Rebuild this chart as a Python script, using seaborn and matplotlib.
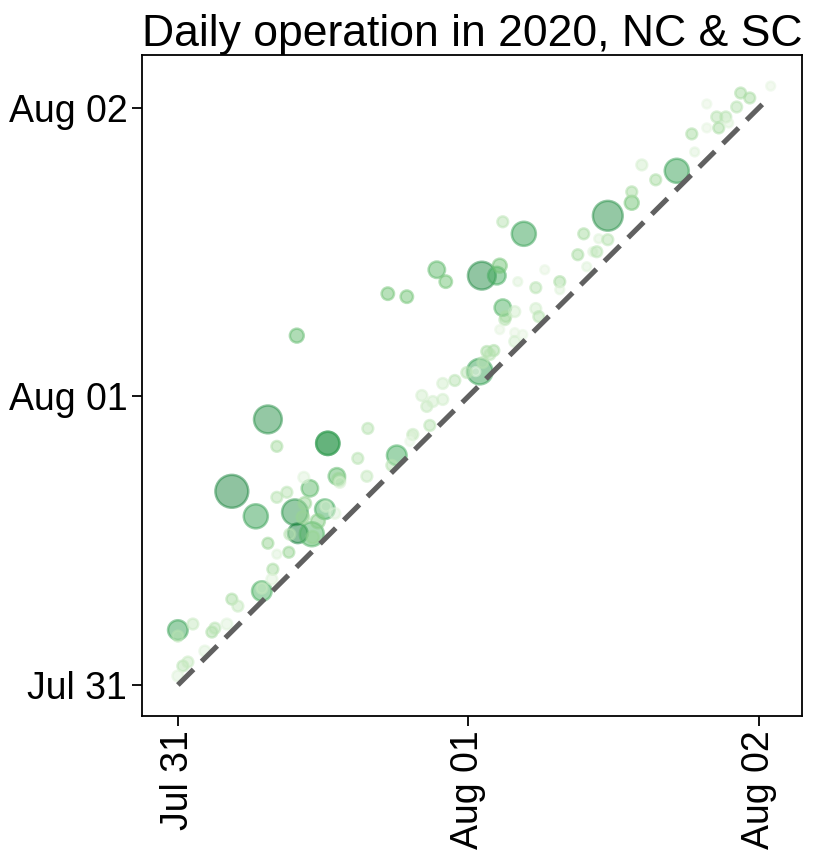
import numpy as np
import pandas as pd
import seaborn as sns
import matplotlib.pyplot as plt
import matplotlib.dates as mdates

# hours after Jul 31 00:00 (start of operation / end of operation)
start_hours = [
    0.00, 0.00, 1.24, 2.81, 3.06, 4.05, 0.41, 0.83, 0.00, 2.23,
    4.46, 4.96, 6.94, 6.94, 7.85, 7.77, 7.44, 9.17, 8.18, 7.44,
    8.18, 12.39, 12.39, 15.70, 14.87, 18.09, 17.68, 19.33, 4.46, 6.44,
    9.67, 10.91, 12.15, 12.23, 13.14, 13.30, 9.91, 11.07, 9.01, 8.18,
    10.41, 15.62, 13.38, 10.49, 11.57, 11.15, 10.33, 12.97, 9.25, 9.83,
    24.95, 24.62, 25.53, 26.11, 25.78, 25.20, 23.88, 22.89, 21.89, 20.16,
    20.57, 21.07, 21.89, 20.82, 19.42, 19.17, 27.02, 26.60, 27.84, 27.84,
    28.59, 26.85, 25.12, 26.36, 26.60, 21.40, 22.14, 17.35, 18.92, 26.85,
    27.10, 27.84, 28.09, 29.58, 30.32, 29.58, 29.83, 28.50, 35.53, 37.51,
    37.51, 38.34, 39.49, 41.23, 42.71, 33.54, 34.78, 35.53, 33.05, 34.29,
    34.62, 33.79, 31.56, 31.56, 42.47, 43.71, 43.71, 44.53, 45.28, 44.70,
    45.52, 46.18, 46.51, 47.26, 48.99,
]
end_hours = [
    4.57, 4.07, 5.07, 4.40, 4.73, 5.07, 1.58, 1.91, 0.75, 2.82,
    7.14, 6.56, 7.81, 8.05, 9.63, 8.80, 11.79, 11.04, 10.88, 22.09,
    19.85, 20.10, 20.10, 21.34, 18.85, 19.10, 18.27, 20.76, 16.11, 14.03,
    14.37, 16.36, 14.62, 14.86, 17.36, 17.11, 12.62, 12.54, 16.03, 15.61,
    17.27, 17.36, 16.86, 15.11, 13.62, 12.29, 13.95, 14.28, 12.54, 29.06,
    26.07, 26.07, 27.74, 27.82, 27.49, 26.82, 25.99, 25.33, 25.08, 24.08,
    23.17, 23.58, 23.75, 21.59, 20.84, 20.26, 30.39, 29.56, 29.31, 28.57,
    37.53, 38.53, 34.05, 34.05, 34.88, 34.54, 33.55, 32.55, 32.30, 31.39,
    30.64, 31.06, 33.55, 33.05, 34.54, 31.31, 30.64, 29.15, 39.03, 40.11,
    41.02, 43.26, 42.02, 42.77, 44.34, 37.53, 37.12, 37.04, 35.79, 36.04,
    36.04, 34.79, 33.55, 32.88, 45.84, 48.33, 46.34, 47.25, 47.25, 46.34,
    46.75, 48.08, 49.24, 48.83, 49.82,
]
trips = [
    10, 3, 3, 3, 3, 3, 3, 3, 3, 3,
    3, 3, 10, 3, 3, 3, 3, 3, 2, 20,
    3, 14, 14, 3, 3, 10, 3, 2, 28, 15,
    17, 7, 10, 3, 7, 4, 10, 15, 3, 3,
    3, 3, 3, 4, 5, 4, 4, 3, 3, 5,
    17, 2, 3, 3, 3, 3, 3, 3, 3, 3,
    3, 3, 3, 3, 3, 2, 3, 2, 2, 3,
    15, 3, 20, 8, 5, 7, 4, 4, 4, 7,
    3, 3, 2, 3, 2, 3, 3, 2, 23, 5,
    3, 3, 3, 15, 2, 3, 2, 3, 3, 2,
    3, 2, 3, 2, 3, 2, 2, 3, 3, 3,
    2, 3, 3, 3, 2,
]
intensity = [
    0.65, 0.30, 0.25, 0.35, 0.30, 0.15, 0.30, 0.25, 0.15, 0.15,
    0.35, 0.25, 0.60, 0.25, 0.35, 0.15, 0.40, 0.40, 0.15, 0.72,
    0.35, 0.75, 0.65, 0.30, 0.30, 0.62, 0.30, 0.12, 0.76, 0.66,
    0.70, 0.55, 0.62, 0.20, 0.55, 0.40, 0.80, 0.58, 0.30, 0.30,
    0.15, 0.25, 0.20, 0.40, 0.45, 0.40, 0.40, 0.15, 0.30, 0.55,
    0.66, 0.10, 0.35, 0.35, 0.30, 0.30, 0.30, 0.30, 0.20, 0.20,
    0.25, 0.20, 0.20, 0.30, 0.25, 0.10, 0.30, 0.12, 0.12, 0.20,
    0.66, 0.30, 0.74, 0.62, 0.50, 0.55, 0.50, 0.50, 0.50, 0.58,
    0.35, 0.20, 0.15, 0.30, 0.12, 0.20, 0.30, 0.12, 0.72, 0.50,
    0.35, 0.20, 0.35, 0.66, 0.15, 0.35, 0.15, 0.30, 0.35, 0.15,
    0.30, 0.15, 0.35, 0.15, 0.35, 0.12, 0.12, 0.30, 0.30, 0.35,
    0.15, 0.30, 0.35, 0.35, 0.12,
]
diag_hours = [0.0, 48.9]

day0 = pd.Timestamp("2020-07-31")
title = "Daily operation in 2020, NC & SC"


def to_time(hours):
    return day0 + pd.to_timedelta(np.asarray(hours, dtype=float), unit="h")


df = pd.DataFrame({
    "start": to_time(start_hours),
    "end": to_time(end_hours),
    "trips": trips,
    "intensity": intensity,
})

sns.set_style("ticks", {"axes.edgecolor": "black", "xtick.color": "black",
                        "ytick.color": "black", "text.color": "black"})
plt.rcParams["font.family"] = ["Liberation Sans", "DejaVu Sans"]

fig = plt.figure(figsize=(8.3, 8.6), dpi=100)
ax = fig.add_axes([0.171, 0.168, 0.795, 0.768])

sns.scatterplot(data=df, x="start", y="end", hue="intensity", palette="Greens",
                hue_norm=(0, 1), size="trips", sizes=(0, 600), size_norm=(0, 30),
                alpha=0.5, edgecolor="face", linewidth=1.8, legend=False, ax=ax)

diag = to_time(diag_hours)
ax.plot(diag, diag, color="#606060", lw=3.7, ls=(0, (4.3, 2.2)))

ax.set_xlim(to_time([-2.97])[0], to_time([51.56])[0])
ax.set_ylim(to_time([-2.54])[0], to_time([52.4])[0])

for axis in (ax.xaxis, ax.yaxis):
    axis.set_major_locator(mdates.DayLocator())
    axis.set_major_formatter(mdates.DateFormatter("%b %d"))
ax.tick_params(labelsize=27, length=7, width=1.3)
plt.setp(ax.get_xticklabels(), rotation=90)
for sp in ax.spines.values():
    sp.set_linewidth(1.3)

ax.set_xlabel("")
ax.set_ylabel("")
ax.set_title(title, fontsize=32, pad=5)

fig.savefig("out.png", dpi=100)
